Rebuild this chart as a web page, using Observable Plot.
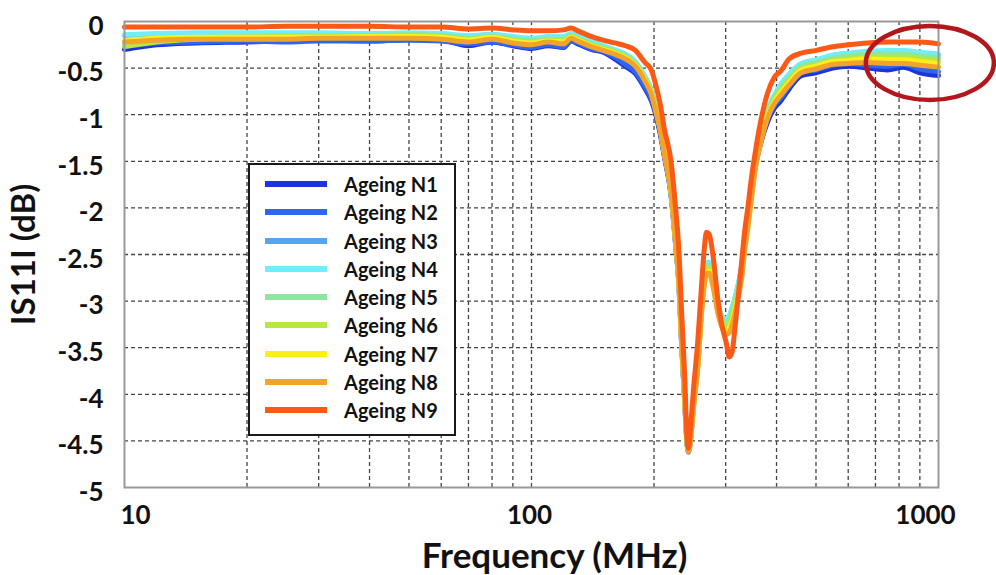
<!DOCTYPE html>
<html><head><meta charset="utf-8">
<script src="https://cdn.jsdelivr.net/npm/d3@7"></script>
<script src="https://cdn.jsdelivr.net/npm/@observablehq/plot@0.6"></script>
<style>
body{margin:0;background:#fff;}
#wrap{position:relative;width:996px;height:575px;font-family:Lato,"Open Sans",sans-serif;}
#legend{position:absolute;left:248px;top:163px;width:204px;height:269px;border:2px solid #1a1a1a;background:#fff;}
.sw{position:absolute;left:15px;width:62px;height:6px;}
.lb{position:absolute;left:94px;font-weight:bold;font-size:20px;color:#111;line-height:22px;}
</style></head>
<body><div id="wrap"></div>
<script>
const freq = [10,12,15,20,25,30,40,50,60,70, 80,90,100,110,120,125,130,140,150,160, 170,180,190,197,202,207,212,220,226,230, 234,238,241,243,246,250,256,262,266,269, 273,280,287,295,301,306,311,316,322,328, 334,340,347,355,365,380,395,410,430,460, 500,550,600,670,750,820,900,1000];

const n1 = [-0.30,-0.25,-0.23,-0.22,-0.21,-0.20,-0.21,-0.19,-0.20,-0.26, -0.22,-0.26,-0.29,-0.26,-0.28,-0.21,-0.24,-0.30,-0.33,-0.40, -0.48,-0.56,-0.72,-0.85,-1.00,-1.20,-1.45,-1.85,-2.40,-2.80, -3.50,-4.10,-4.52,-4.62,-4.48,-4.12,-3.70,-3.05,-2.75,-2.63, -2.62,-2.80,-3.05,-3.20,-3.22,-3.18,-3.10,-3.00,-2.85,-2.66, -2.38,-2.14,-1.86,-1.55,-1.32,-1.08,-0.93,-0.85,-0.72,-0.58, -0.55,-0.50,-0.48,-0.50,-0.52,-0.49,-0.55,-0.58];
const n2 = [-0.27,-0.23,-0.22,-0.21,-0.22,-0.21,-0.21,-0.20,-0.21,-0.24, -0.22,-0.25,-0.28,-0.25,-0.27,-0.21,-0.23,-0.29,-0.32,-0.38, -0.46,-0.54,-0.70,-0.83,-0.98,-1.18,-1.43,-1.83,-2.38,-2.78, -3.48,-4.08,-4.51,-4.61,-4.47,-4.11,-3.69,-3.04,-2.74,-2.62, -2.61,-2.79,-3.04,-3.19,-3.21,-3.18,-3.10,-3.00,-2.85,-2.66, -2.37,-2.13,-1.84,-1.53,-1.30,-1.05,-0.90,-0.82,-0.69,-0.55, -0.52,-0.47,-0.45,-0.47,-0.48,-0.46,-0.51,-0.54];
const n3 = [-0.15,-0.14,-0.13,-0.13,-0.13,-0.13,-0.13,-0.13,-0.14,-0.16, -0.14,-0.17,-0.19,-0.17,-0.17,-0.14,-0.16,-0.22,-0.27,-0.31, -0.36,-0.44,-0.60,-0.74,-0.92,-1.12,-1.38,-1.80,-2.35,-2.76, -3.45,-4.05,-4.49,-4.60,-4.45,-4.09,-3.67,-3.02,-2.72,-2.60, -2.59,-2.77,-3.03,-3.18,-3.20,-3.17,-3.08,-2.98,-2.83,-2.64, -2.34,-2.10,-1.80,-1.48,-1.24,-0.96,-0.80,-0.68,-0.57,-0.46, -0.42,-0.37,-0.35,-0.33,-0.33,-0.32,-0.34,-0.36];
const n4 = [-0.14,-0.13,-0.12,-0.12,-0.12,-0.12,-0.13,-0.12,-0.13,-0.15, -0.14,-0.16,-0.18,-0.16,-0.16,-0.13,-0.15,-0.21,-0.26,-0.30, -0.35,-0.43,-0.59,-0.73,-0.91,-1.11,-1.37,-1.79,-2.34,-2.75, -3.44,-4.04,-4.48,-4.59,-4.44,-4.08,-3.66,-3.01,-2.71,-2.59, -2.58,-2.76,-3.02,-3.17,-3.19,-3.16,-3.07,-2.97,-2.82,-2.63, -2.33,-2.09,-1.79,-1.47,-1.23,-0.95,-0.79,-0.67,-0.56,-0.45, -0.41,-0.36,-0.34,-0.32,-0.31,-0.31,-0.33,-0.35];
const n5 = [-0.25,-0.21,-0.18,-0.16,-0.15,-0.15,-0.15,-0.14,-0.15,-0.18, -0.16,-0.19,-0.21,-0.19,-0.19,-0.15,-0.18,-0.24,-0.28,-0.32, -0.37,-0.45,-0.61,-0.75,-0.93,-1.13,-1.39,-1.80,-2.35,-2.76, -3.45,-4.05,-4.49,-4.60,-4.45,-4.10,-3.68,-3.03,-2.74,-2.62, -2.61,-2.79,-3.05,-3.20,-3.23,-3.20,-3.12,-3.01,-2.86,-2.67, -2.37,-2.13,-1.82,-1.50,-1.26,-0.98,-0.82,-0.71,-0.60,-0.48, -0.44,-0.39,-0.37,-0.35,-0.35,-0.35,-0.37,-0.39];
const n6 = [-0.27,-0.22,-0.19,-0.17,-0.16,-0.16,-0.16,-0.15,-0.16,-0.19, -0.17,-0.20,-0.22,-0.20,-0.21,-0.16,-0.19,-0.25,-0.29,-0.33, -0.38,-0.46,-0.62,-0.76,-0.94,-1.14,-1.40,-1.81,-2.36,-2.77, -3.46,-4.06,-4.49,-4.60,-4.46,-4.11,-3.70,-3.06,-2.77,-2.66, -2.65,-2.82,-3.08,-3.24,-3.28,-3.25,-3.17,-3.05,-2.90,-2.71, -2.40,-2.16,-1.85,-1.52,-1.28,-1.00,-0.84,-0.74,-0.63,-0.51, -0.47,-0.42,-0.40,-0.38,-0.38,-0.38,-0.40,-0.42];
const n7 = [-0.20,-0.18,-0.17,-0.17,-0.17,-0.17,-0.16,-0.16,-0.17,-0.20, -0.17,-0.21,-0.23,-0.21,-0.22,-0.17,-0.20,-0.26,-0.30,-0.34, -0.39,-0.47,-0.63,-0.77,-0.95,-1.15,-1.41,-1.82,-2.37,-2.78, -3.47,-4.07,-4.50,-4.61,-4.47,-4.13,-3.72,-3.08,-2.80,-2.69, -2.68,-2.85,-3.11,-3.27,-3.31,-3.29,-3.22,-3.10,-2.94,-2.74, -2.43,-2.19,-1.88,-1.55,-1.30,-1.02,-0.86,-0.76,-0.65,-0.52, -0.48,-0.43,-0.42,-0.40,-0.41,-0.41,-0.43,-0.45];
const n8 = [-0.22,-0.20,-0.19,-0.19,-0.19,-0.18,-0.18,-0.18,-0.19,-0.22, -0.19,-0.23,-0.25,-0.22,-0.24,-0.18,-0.21,-0.27,-0.31,-0.35, -0.40,-0.48,-0.64,-0.78,-0.96,-1.16,-1.42,-1.82,-2.37,-2.78, -3.47,-4.07,-4.50,-4.61,-4.48,-4.14,-3.73,-3.10,-2.82,-2.71, -2.70,-2.87,-3.13,-3.30,-3.36,-3.34,-3.26,-3.14,-2.97,-2.77, -2.46,-2.22,-1.91,-1.57,-1.32,-1.04,-0.88,-0.79,-0.68,-0.55, -0.51,-0.46,-0.45,-0.44,-0.45,-0.45,-0.47,-0.49];
const n9 = [-0.06,-0.06,-0.06,-0.06,-0.05,-0.05,-0.05,-0.06,-0.06,-0.08, -0.07,-0.09,-0.10,-0.10,-0.09,-0.07,-0.10,-0.16,-0.20,-0.23, -0.26,-0.31,-0.44,-0.52,-0.68,-0.88,-1.15,-1.49,-2.00,-2.42, -3.15,-3.82,-4.45,-4.58,-4.35,-3.95,-3.45,-2.80,-2.42,-2.26, -2.28,-2.55,-2.98,-3.30,-3.45,-3.60,-3.55,-3.30,-2.95,-2.60, -2.25,-2.00,-1.68,-1.39,-1.09,-0.77,-0.60,-0.53,-0.40,-0.34, -0.31,-0.27,-0.25,-0.23,-0.22,-0.22,-0.22,-0.24];

const seriesNames = ["Ageing N1","Ageing N2","Ageing N3","Ageing N4","Ageing N5","Ageing N6","Ageing N7","Ageing N8","Ageing N9"];
const seriesColors = ["#1f33dc","#2e66ee","#55a6f2","#72eefa","#8ee6a0","#b6e83e","#fbee1c","#f3a22a","#fa5a16"];
const seriesValues = [n1,n2,n3,n4,n5,n6,n7,n8,n9];

const yTicks = [0,-0.5,-1,-1.5,-2,-2.5,-3,-3.5,-4,-4.5,-5];
const yGrid = [-0.5,-1,-1.5,-2,-2.5,-3,-3.5,-4,-4.5];
const xTickLabels = [10,100,1000];
const xGrid = [20,30,40,50,60,70,80,90,100,200,300,400,500,600,700,800,900];
const yTitle = "IS11I (dB)";
const xTitle = "Frequency (MHz)";
const highlightF = [955];
const highlightDb = [-0.45];

const rows = [];
seriesNames.forEach((name, i) => {
  freq.forEach((f, j) => rows.push({series: name, f, v: seriesValues[i][j]}));
});

const ellipseMark = (index, scales) => {
  const ns = "http://www.w3.org/2000/svg";
  const g = document.createElementNS(ns, "g");
  highlightF.forEach((f, i) => {
    const e = document.createElementNS(ns, "ellipse");
    e.setAttribute("cx", scales.x(f));
    e.setAttribute("cy", scales.y(highlightDb[i]));
    e.setAttribute("rx", 64);
    e.setAttribute("ry", 37);
    e.setAttribute("fill", "none");
    e.setAttribute("stroke", "#b3161c");
    e.setAttribute("stroke-width", 4.5);
    g.appendChild(e);
  });
  return g;
};

const tickStyle = {tickSize: 0, fontSize: 26, fontWeight: "bold", fill: "#111", tickFormat: d => String(d), label: null};

const chart = Plot.plot({
  width: 996, height: 575,
  marginLeft: 124, marginRight: 58, marginTop: 21, marginBottom: 88,
  style: {fontFamily: "Lato, 'Open Sans', sans-serif", background: "#fff", overflow: "visible"},
  x: {type: "log", domain: [10, 1000]},
  y: {domain: [-5, 0]},
  color: {domain: seriesNames, range: seriesColors},
  marks: [
    Plot.ruleY(yGrid, {stroke: "#444", strokeWidth: 1.3, strokeDasharray: "4,3"}),
    Plot.ruleX(xGrid, {stroke: "#444", strokeWidth: 1.3, strokeDasharray: "4,3"}),
    Plot.line(rows, {x: "f", y: "v", z: "series", stroke: "series", strokeWidth: 5, curve: "monotone-x"}),
    Plot.frame({stroke: "#999", strokeWidth: 2}),
    Plot.axisY(yTicks, {...tickStyle, tickPadding: 21, dy: 5}),
    Plot.axisX([xTickLabels[0]], {...tickStyle, tickPadding: 18, dx: 11}),
    Plot.axisX([xTickLabels[1]], {...tickStyle, tickPadding: 18, dx: -2}),
    Plot.axisX([xTickLabels[2]], {...tickStyle, tickPadding: 18, dx: -13}),
    Plot.text([yTitle], {frameAnchor: "left", textAnchor: "middle", lineAnchor: "middle", rotate: -90, dx: -100, fontSize: 33, fontWeight: "bold", fill: "#111"}),
    Plot.text([xTitle], {frameAnchor: "bottom", textAnchor: "middle", lineAnchor: "middle", dy: 69, dx: 23, fontSize: 35, fontWeight: "bold", fill: "#111"}),
    ellipseMark
  ]
});

const wrap = document.getElementById("wrap");
wrap.appendChild(chart);

const legend = document.createElement("div");
legend.id = "legend";
seriesNames.forEach((name, i) => {
  const top = 19 + i * 28.25;
  const sw = document.createElement("div");
  sw.className = "sw";
  sw.style.top = (top - 3) + "px";
  sw.style.background = seriesColors[i];
  legend.appendChild(sw);
  const lb = document.createElement("div");
  lb.className = "lb";
  lb.style.top = (top - 11) + "px";
  lb.textContent = name;
  legend.appendChild(lb);
});
wrap.appendChild(legend);
</script>
</body></html>
